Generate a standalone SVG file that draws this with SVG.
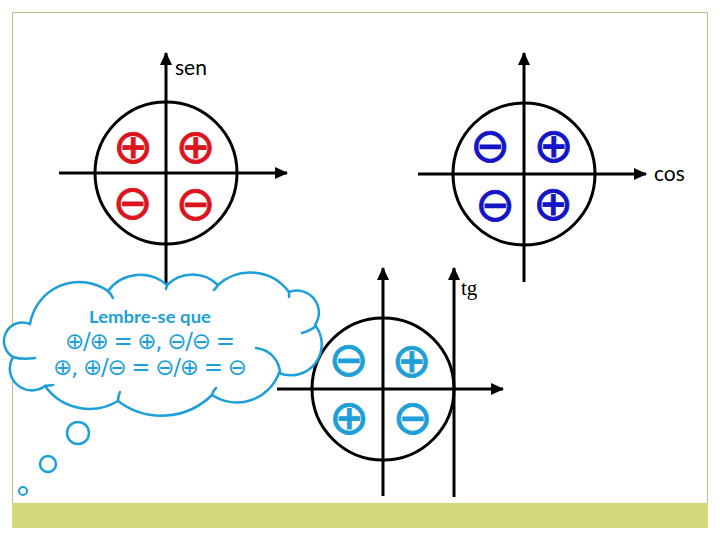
<svg xmlns="http://www.w3.org/2000/svg" width="720" height="540" viewBox="0 0 720 540">
<defs>
<marker id="arr" markerUnits="userSpaceOnUse" markerWidth="14" markerHeight="12" refX="12" refY="6" orient="auto">
<path d="M0,0 L13,6 L0,12 Z" fill="#000"/>
</marker>
<style>
.ax-a{stroke:#000;stroke-width:3;fill:none;marker-end:url(#arr)}
.uc{stroke:#000;stroke-width:3;fill:none}
.sg{font-family:"DejaVu Sans",sans-serif;font-size:48px;text-anchor:middle;stroke-width:0.8}
.red{fill:#dc141e;stroke:#dc141e}
.blue{fill:#1414c8;stroke:#1414c8}
.cy{fill:#1e9fd7;stroke:#1e9fd7}
.lbl{font-family:Lato,"Open Sans",sans-serif;font-size:21px;fill:#000}
.cloud{fill:#fff;stroke:#1e9fd7;stroke-width:2.5}
.hook{fill:none;stroke:#1e9fd7;stroke-width:2.5;stroke-linecap:round}
.ct{font-family:"DejaVu Sans",sans-serif;font-size:23px;fill:#1e9fd7;text-anchor:middle}
</style>
</defs>
<rect x="0" y="0" width="720" height="540" fill="#fff"/>
<g id="frame">
<rect x="12.5" y="12.5" width="695" height="515" fill="#fff" stroke="#bfbf8f" stroke-width="1"/>
<rect x="12" y="503" width="696" height="25" fill="#d3d87c"/>
</g>
<g id="connectors">
<line class="ax-a" x1="166" y1="300" x2="166" y2="53"/>
<line class="ax-a" x1="59" y1="173" x2="287" y2="173"/>
<line class="ax-a" x1="524" y1="282" x2="524" y2="53"/>
<line class="ax-a" x1="418" y1="174" x2="646" y2="174"/>
<line class="ax-a" x1="383" y1="496" x2="383" y2="268"/>
<line class="ax-a" x1="454" y1="497" x2="454" y2="268"/>
<line class="ax-a" x1="277" y1="389" x2="503" y2="389"/>
</g>
<g id="sen">
<circle class="uc" cx="166" cy="173" r="71"/>
<text class="lbl" x="175" y="75">sen</text>
<text class="sg red" x="133" y="162.5">⊕</text>
<text class="sg red" x="195.5" y="162.5">⊕</text>
<text class="sg red" x="132.5" y="218.5">⊖</text>
<text class="sg red" x="195.5" y="220">⊖</text>
</g>
<g id="cos">
<circle class="uc" cx="524" cy="174" r="71"/>
<text class="lbl" x="654" y="181">cos</text>
<text class="sg blue" x="490" y="162">⊖</text>
<text class="sg blue" x="553.5" y="161.5">⊕</text>
<text class="sg blue" x="495" y="221">⊖</text>
<text class="sg blue" x="553" y="220">⊕</text>
</g>
<g id="tg">
<circle class="uc" cx="383" cy="389" r="71"/>
<text x="461" y="295" font-family="Liberation Serif,serif" font-size="21" fill="#000">tg</text>
<text class="sg cy" x="348.5" y="375.5">⊖</text>
<text class="sg cy" x="411.5" y="377">⊕</text>
<text class="sg cy" x="349" y="433.5">⊕</text>
<text class="sg cy" x="412.5" y="434">⊖</text>
</g>
<g id="cloud">
<path class="cloud" d="M108,291 A40,40 0 0 1 167,285 A36,36 0 0 1 218,285 A48,48 0 0 1 289,292 A22,22 0 0 1 315,325 A31,31 0 0 1 279,373 A45,45 0 0 1 212,395 A72,72 0 0 1 118,401 A55,55 0 0 1 45,386 A22,22 0 0 1 13,357 A18.6,18.6 0 0 1 30,324 A50,50 0 0 1 108,291 Z"/>
<path class="hook" d="M13,357 Q22,360 35,358"/>
<path class="hook" d="M280,372 C279,362 272,350 256,348"/>
<path class="hook" d="M316,326 Q310,331 302,333"/>
<path class="hook" d="M108,291 Q111,294 113,298"/>
<path class="hook" d="M167,285 L166,289"/>
<path class="hook" d="M218,285 Q216,288 214,290"/>
<path class="hook" d="M289,292 L289,297"/>
<path class="hook" d="M212,395 Q213,391 216,388"/>
<path class="hook" d="M118,401 Q118,396 120,392"/>
<path class="hook" d="M45,386 L53,385"/>
<circle cx="78" cy="433" r="11" fill="none" stroke="#1e9fd7" stroke-width="2.5"/>
<circle cx="48" cy="464" r="8" fill="none" stroke="#1e9fd7" stroke-width="2.5"/>
<circle cx="23" cy="491" r="4" fill="none" stroke="#1e9fd7" stroke-width="2"/>
<text x="150" y="323" font-family="Lato,'Open Sans',sans-serif" font-size="17" font-weight="bold" fill="#1e9fd7" text-anchor="middle" textLength="122" lengthAdjust="spacingAndGlyphs">Lembre-se que</text>
<text class="ct" x="150" y="349" textLength="170" lengthAdjust="spacing">⊕/⊕ = ⊕, ⊖/⊖ =</text>
<text class="ct" x="150" y="375" textLength="194" lengthAdjust="spacing">⊕, ⊕/⊖ = ⊖/⊕ = ⊖</text>
</g>
</svg>
